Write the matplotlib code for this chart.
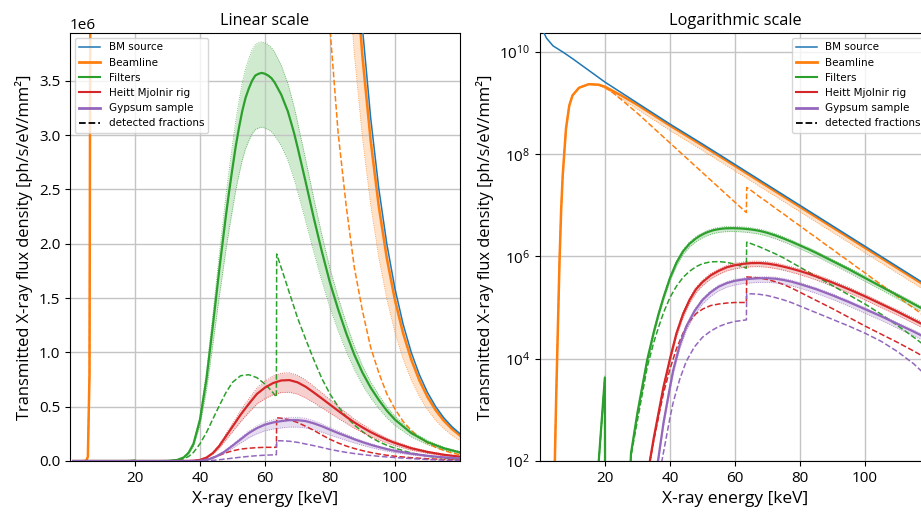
import numpy as np
import matplotlib
matplotlib.use("Agg")
import matplotlib.pyplot as plt
from matplotlib.lines import Line2D
from matplotlib.ticker import NullLocator

plt.rcParams['font.family'] = ['Open Sans', 'DejaVu Sans']
plt.rcParams['mathtext.fontset'] = 'custom'
plt.rcParams['mathtext.rm'] = 'Open Sans'

# values, stored as log10(flux) [ph/s/eV/mm2]
# BM source
e_bm = [0.5, 1, 2, 4, 7, 10, 15, 20, 30, 40, 50, 60, 65, 70, 75, 80, 82.5, 85, 87.5,
        90, 92.5, 95, 97.5, 100, 102.5, 105, 107.5, 110, 112.5, 115, 117.5, 120]
lg_bm = [10.6, 10.40, 10.27, 10.12, 10.0, 9.87, 9.64, 9.41, 9.0, 8.59, 8.2, 7.8, 7.6,
         7.4, 7.2, 7.0, 6.9, 6.8, 6.7, 6.6, 6.5, 6.4, 6.3, 6.2, 6.1, 6.0, 5.9, 5.8, 5.7,
         5.6, 5.5, 5.4]

# Beamline
e_bl = [4.4, 5.0, 5.5, 6.0, 6.5, 7, 8, 9, 10, 12, 15, 18, 20, 25, 30, 40, 50, 60, 65,
        70, 75, 80, 82.5, 85, 87.5, 90, 92.5, 95, 97.5, 100, 102.5, 105, 107.5, 110,
        112.5, 115, 117.5, 120]
lg_bl = [1.5, 3.3, 4.6, 5.9, 6.9, 7.6, 8.5, 8.95, 9.15, 9.3, 9.37, 9.36, 9.32, 9.15,
         8.965, 8.56, 8.17, 7.77, 7.57, 7.37, 7.17, 6.97, 6.87, 6.77, 6.67, 6.57, 6.47,
         6.37, 6.27, 6.17, 6.07, 5.97, 5.87, 5.77, 5.67, 5.57, 5.47, 5.37]
bl_lo = [1.0] * 11 + [0.96, 0.93, 0.87, 0.82] + [0.80] * 23
bl_hi = [1.0] * 11 + [1.01, 1.02, 1.03, 1.03] + [1.03] * 23
e_bl_det = [4.4, 5.0, 5.5, 6.0, 6.5, 7, 8, 9, 10, 12, 15, 18, 20, 22.5, 25, 30, 40,
            50, 60, 63.5, 63.6, 65, 67.5, 70, 72.5, 75, 77.5, 80, 82.5, 85, 87.5, 90,
            92.5, 95, 97.5, 100, 102.5, 105, 107.5, 110, 112.5, 115, 117.5, 120]
lg_bl_det = [1.5, 3.3, 4.6, 5.9, 6.9, 7.6, 8.5, 8.95, 9.15, 9.3, 9.37, 9.36, 9.31,
             9.2, 9.07, 8.8, 8.22, 7.64, 7.06, 6.86, 7.35, 7.29, 7.17, 7.06, 6.94, 6.83,
             6.71, 6.60, 6.48, 6.37, 6.25, 6.14, 6.02, 5.91, 5.79, 5.68, 5.56, 5.45,
             5.33, 5.22, 5.10, 4.99, 4.87, 4.76]

# Filters
e_fi = [1, 17.5, 19.95, 20.05, 27.5, 28, 30, 33, 35, 36.5, 38, 40, 42, 44, 46, 48, 49,
        50, 51, 52, 53, 54, 55, 56, 57, 58, 59, 60, 61, 62, 63, 64, 65, 66, 67, 68, 69,
        70, 72.5, 75, 77.5, 80, 82.5, 85, 87.5, 90, 92.5, 95, 97.5, 100, 105, 110, 115,
        120]
lg_fi = [0, 1.5, 3.63, 0.5, 1.5, 2.15, 2.95, 3.98, 4.52, 4.88, 5.2, 5.58, 5.88, 6.10,
         6.25, 6.355, 6.396, 6.431, 6.462, 6.487, 6.508, 6.524, 6.535, 6.544, 6.550,
         6.552, 6.553, 6.552, 6.550, 6.547, 6.542, 6.535, 6.528, 6.518, 6.508, 6.494,
         6.479, 6.461, 6.41, 6.35, 6.285, 6.215, 6.145, 6.07, 5.99, 5.91, 5.83, 5.75,
         5.665, 5.58, 5.41, 5.24, 5.07, 4.90]
e_fi_det = [1, 17.5, 19.95, 20.05, 27.5, 28, 30, 33, 35, 36.5, 38, 40, 42, 44, 46, 48,
            50, 52.5, 55, 57.5, 60, 62, 63.5, 63.6, 65, 67.5, 70, 72.5, 75, 77.5, 80,
            82.5, 85, 87.5, 90, 92.5, 95, 97.5, 100, 105, 110, 115, 120]
lg_fi_det = [0, 1.5, 3.6, 0.5, 1.5, 2.1, 2.8, 3.84, 4.32, 4.62, 4.9, 5.2, 5.42, 5.59,
             5.71, 5.8, 5.86, 5.895, 5.9, 5.885, 5.85, 5.81, 5.77, 6.28, 6.25, 6.19,
             6.12, 6.05, 5.97, 5.88, 5.79, 5.70, 5.61, 5.52, 5.43, 5.34, 5.25, 5.16,
             5.07, 4.87, 4.65, 4.42, 4.18]

# Heitt Mjolnir rig
e_rig = [1, 33, 33.8, 35, 36.5, 38, 40, 42, 44, 46, 48, 50, 52.5, 55, 57.5, 60, 62.5,
         65, 67.5, 70, 72.5, 75, 77.5, 80, 82.5, 85, 87.5, 90, 92.5, 95, 97.5, 100,
         105, 110, 115, 120]
lg_rig = [0, 1.0, 2.0, 2.45, 2.95, 3.45, 4.0, 4.5, 4.87, 5.15, 5.36, 5.5, 5.63, 5.72,
          5.79, 5.83, 5.856, 5.87, 5.872, 5.86, 5.835, 5.80, 5.76, 5.715, 5.665, 5.61,
          5.55, 5.49, 5.425, 5.36, 5.29, 5.22, 5.07, 4.92, 4.76, 4.60]
e_rig_det = [1, 33, 33.8, 35, 36.5, 38, 40, 42, 44, 46, 48, 50, 52.5, 55, 57.5, 60,
             63.5, 63.6, 65, 67.5, 70, 72.5, 75, 77.5, 80, 82.5, 85, 87.5, 90, 92.5, 95,
             97.5, 100, 105, 110, 115, 120]
lg_rig_det = [0, 1.0, 2.0, 2.4, 2.87, 3.33, 3.8, 4.2, 4.5, 4.73, 4.88, 4.97, 5.04, 5.07,
              5.09, 5.1, 5.1, 5.6, 5.595, 5.58, 5.55, 5.505, 5.45, 5.38, 5.30, 5.22,
              5.14, 5.06, 4.98, 4.895, 4.81, 4.725, 4.64, 4.48, 4.32, 4.15, 3.97]

# Gypsum sample
e_gy = [1, 35.5, 36.3, 38, 40, 41, 43, 45, 47.5, 50, 52.5, 55, 57.5, 60, 62.5, 65, 67.5,
        70, 72.5, 75, 77.5, 80, 82.5, 85, 87.5, 90, 92.5, 95, 97.5, 100, 105, 110, 115,
        120]
lg_gy = [0, 1.0, 2.0, 2.75, 3.45, 3.78, 4.27, 4.63, 4.93, 5.15, 5.3, 5.41, 5.48, 5.525,
         5.55, 5.565, 5.575, 5.575, 5.565, 5.54, 5.505, 5.46, 5.41, 5.36, 5.30, 5.24,
         5.175, 5.11, 5.04, 4.97, 4.83, 4.68, 4.53, 4.37]
e_gy_det = [1, 36.8, 37.5, 40, 41, 43, 45, 47.5, 50, 52.5, 55, 57.5, 60, 63.5, 63.6, 65,
            67.5, 70, 72.5, 75, 77.5, 80, 82.5, 85, 87.5, 90, 92.5, 95, 97.5, 100, 105,
            110, 115, 120]
lg_gy_det = [0, 1.0, 2.0, 2.85, 3.15, 3.6, 3.95, 4.23, 4.42, 4.54, 4.63, 4.69, 4.73,
             4.76, 5.27, 5.27, 5.26, 5.235, 5.195, 5.15, 5.095, 5.03, 4.965, 4.90, 4.835,
             4.77, 4.705, 4.64, 4.57, 4.50, 4.34, 4.14, 3.9, 3.6]

# uncertainty bands as (low, high) factors on the flux
band_fi = (0.86, 1.08)
band_rig = (0.85, 1.09)
band_gy = (0.83, 1.07)

labels = ['BM source', 'Beamline', 'Filters', 'Heitt Mjolnir rig', 'Gypsum sample']
colors = ['#1f77b4', '#ff7f0e', '#2ca02c', '#d62728', '#9467bd']


def flux(lg):
    return 10.0 ** np.array(lg)


def draw(ax):
    ax.plot(e_bm, flux(lg_bm), color=colors[0], lw=1.1, label=labels[0], zorder=3)
    series = [
        (e_bl, lg_bl, e_bl_det, lg_bl_det, (np.array(bl_lo), np.array(bl_hi)), 1.8),
        (e_fi, lg_fi, e_fi_det, lg_fi_det, band_fi, 1.6),
        (e_rig, lg_rig, e_rig_det, lg_rig_det, band_rig, 1.6),
        (e_gy, lg_gy, e_gy_det, lg_gy_det, band_gy, 1.6),
    ]
    for i, (e, lg, ed, lgd, band, lw) in enumerate(series):
        c = colors[i + 1]
        f = flux(lg)
        lo, hi = f * band[0], f * band[1]
        ax.fill_between(e, lo, hi, color=c, alpha=0.22, lw=0)
        ax.plot(e, lo, color=c, lw=0.6, ls=':', alpha=0.8)
        ax.plot(e, hi, color=c, lw=0.6, ls=':', alpha=0.8)
        ax.plot(e, f, color=c, lw=lw, label=labels[i + 1])
        ax.plot(ed, flux(lgd), color=c, lw=1.1, ls='--')
    ax.set_xlim(0, 120)
    ax.set_xticks([20, 40, 60, 80, 100])
    ax.grid(True, color='#c4c4c4', lw=1.0)
    ax.set_xlabel('X-ray energy [keV]', fontsize=12.5)
    ax.set_ylabel('Transmitted X-ray flux density [ph/s/eV/mm²]', fontsize=11.9)
    ax.tick_params(labelsize=11)


fig = plt.figure(figsize=(9.21, 5.14), dpi=100)
ax1 = fig.add_axes([70 / 921, 1 - 461 / 514, 390 / 921, 428 / 514])
ax2 = fig.add_axes([540 / 921, 1 - 461 / 514, 390 / 921, 428 / 514])

draw(ax1)
ax1.set_ylim(0, 3.94e6)
ax1.yaxis.get_offset_text().set_fontsize(11)
ax1.set_title('Linear scale', fontsize=11.6)

draw(ax2)
ax2.set_yscale('log')
ax2.set_ylim(1e2, 2.35e10)
ax2.set_yticks([1e2, 1e4, 1e6, 1e8, 1e10])
ax2.yaxis.set_minor_locator(NullLocator())
ax2.set_title('Logarithmic scale', fontsize=11.8)

handles = [Line2D([], [], color=colors[0], lw=1.1),
           Line2D([], [], color=colors[1], lw=2.0),
           Line2D([], [], color=colors[2], lw=1.5),
           Line2D([], [], color=colors[3], lw=1.5),
           Line2D([], [], color=colors[4], lw=2.0),
           Line2D([], [], color='black', lw=1.3, ls='--')]
leg_labels = labels + ['detected fractions']
ax1.legend(handles, leg_labels, loc='upper left', prop={'family': 'DejaVu Sans', 'size': 7.5})
ax2.legend(handles, leg_labels, loc='upper right', prop={'family': 'DejaVu Sans', 'size': 7.5})

fig.savefig('out.png', dpi=100)
